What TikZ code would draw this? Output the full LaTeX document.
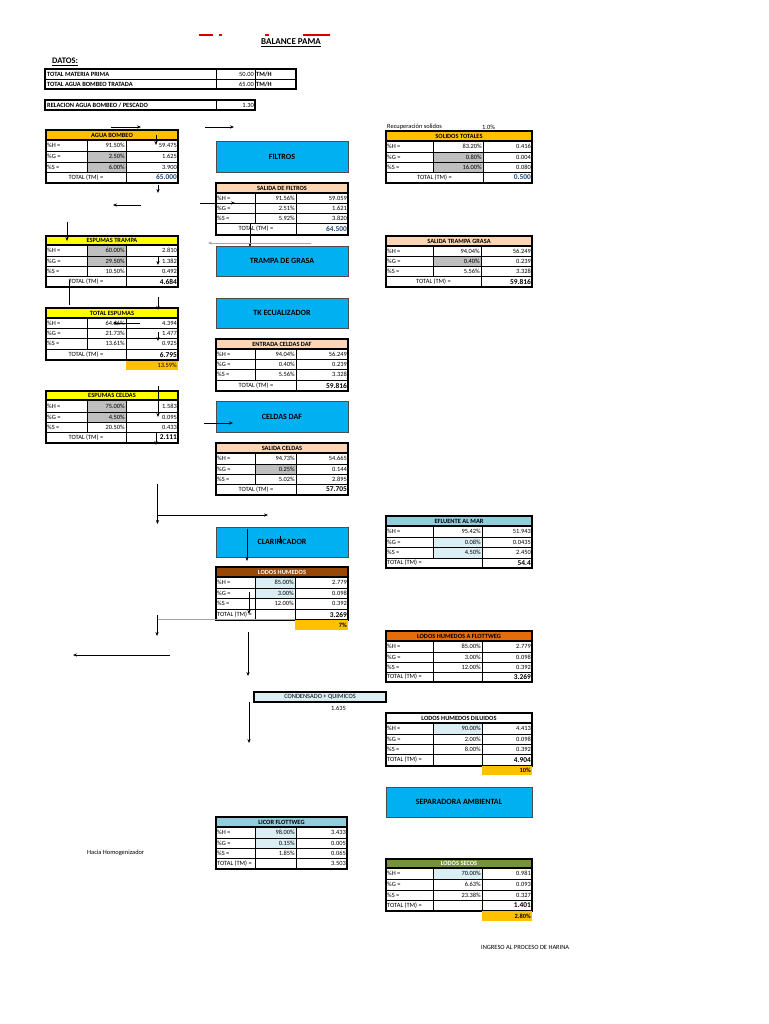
\documentclass[tikz,border=0pt]{standalone}
\usepackage{fontspec}
\setmainfont{Carlito}
\usetikzlibrary{arrows.meta}
\definecolor{gold}{RGB}{255,192,0}
\definecolor{peach}{RGB}{252,213,180}
\definecolor{yel}{RGB}{255,255,0}
\definecolor{boxblue}{RGB}{0,176,240}
\definecolor{cellgray}{RGB}{191,191,191}
\definecolor{lightcell}{RGB}{218,238,243}
\definecolor{hdrblue}{RGB}{146,205,220}
\definecolor{brownhdr}{RGB}{151,71,6}
\definecolor{orangehdr}{RGB}{228,108,10}
\definecolor{olivehdr}{RGB}{118,146,60}
\definecolor{navy}{RGB}{31,73,125}
\definecolor{titlered}{RGB}{210,0,0}
\tikzset{
 grid/.style={line width=0.6pt, draw=black},
 outer/.style={line width=1.1pt, draw=black},
 ctext/.style={inner sep=0pt, font=\fontsize{6.4}{7}\selectfont},
 htext/.style={inner sep=0pt, font=\fontsize{6.4}{7}\selectfont\bfseries},
 boxtext/.style={inner sep=0pt, font=\fontsize{8}{9}\selectfont\bfseries},
 tot/.style={font=\fontsize{7.4}{8}\selectfont\bfseries},
 totblue/.style={tot, text=navy},
 flow/.style={-{Stealth[length=4pt,width=3.2pt]}, line width=0.8pt},
 gflow/.style={flow, draw=gray!70},
 procbox/.style={draw=black!70, fill=boxblue, line width=0.8pt},
}
\newcounter{cellno}
\newcommand\cellnode[3]{\stepcounter{cellno}\edef\cname{n\arabic{cellno}}\node[#1] (\cname) at #2 {#3};}
\newcommand\setcols[4]{\def\xa{#1}\def\xb{#2}\def\xc{#3}\def\xd{#4}}
\newcommand\hdr[5]{%
  \filldraw[outer, fill=#3] (\xa,#1) rectangle (\xd,#2);
  \cellnode{htext,text=#4}{({(\xa+\xd)/2},{(#1+#2)/2})}{#5}}
\newcommand\drow[6]{%
  \fill[#5] (\xb,#1) rectangle (\xc,#2);
  \draw[grid] (\xa,#1) rectangle (\xd,#2) (\xb,#1)--(\xb,#2) (\xc,#1)--(\xc,#2);
  \cellnode{ctext,anchor=west}{({\xa+1},{(#1+#2)/2})}{#3}
  \cellnode{ctext,anchor=east}{({\xc-1},{(#1+#2)/2})}{#4}
  \cellnode{ctext,anchor=east}{({\xd-1},{(#1+#2)/2})}{#6}}
\newcommand\trowA[4]{%
  \draw[grid] (\xa,#1) rectangle (\xd,#2) (\xc,#1)--(\xc,#2);
  \cellnode{ctext}{({(\xa+\xc)/2},{(#1+#2)/2})}{TOTAL (TM) =}
  \cellnode{ctext,anchor=east,#4}{({\xd-1},{(#1+#2)/2})}{#3}}
\newcommand\trowB[5]{%
  \draw[grid] (\xa,#1) rectangle (\xd,#2) (\xc,#1)--(\xc,#2);
  \ifnum#5=1 \draw[grid] (\xb,#1)--(\xb,#2);\fi
  \cellnode{ctext,anchor=west}{({\xa+1},{(#1+#2)/2})}{TOTAL (TM) =}
  \cellnode{ctext,anchor=east,#4}{({\xd-1},{(#1+#2)/2})}{#3}}
\newcommand\tblframe[2]{\draw[outer] (\xa,#1) rectangle (\xd,#2);}
\newcommand\orangecell[4]{%
  \fill[gold] (\xc,#1) rectangle (\xd,#2);
  \cellnode{ctext,anchor=east,#4}{({\xd-1},{(#1+#2)/2})}{#3}}
\begin{document}
\begin{tikzpicture}[x=1pt,y=-1pt]
\useasboundingbox (0,0) rectangle (768,1024);
\fill[white] (0,0) rectangle (768,1024);
% title
\draw[titlered, line width=1.6pt] (199,35)--(213,35) (219,35)--(222,35) (265,35)--(269,35) (303,35)--(330,35);
\node[inner sep=0pt, font=\fontsize{9}{10}\selectfont\bfseries] (title) at (291,43) {\underline{BALANCE PAMA}};
\node[inner sep=0pt, anchor=west, font=\fontsize{8.5}{10}\selectfont\bfseries] (datos) at (52,62) {\underline{DATOS:}};
% datos
\draw[grid] (45,79)--(296,79) (216,69)--(216,89) (255,69)--(255,89);
\draw[outer] (45,69) rectangle (296,89);
\node[htext, anchor=west] (d1) at (47,74) {TOTAL MATERIA PRIMA};
\node[ctext, anchor=east] (d2) at (254,74) {50.00};
\node[htext, anchor=west] (d3) at (256,74) {TM/H};
\node[htext, anchor=west] (d4) at (47,84) {TOTAL AGUA BOMBEO TRATADA};
\node[ctext, anchor=east] (d5) at (254,84) {65.00};
\node[htext, anchor=west] (d6) at (256,84) {TM/H};
\draw[grid] (216,100)--(216,110);
\draw[outer] (45,100) rectangle (255,110);
\node[htext, anchor=west] (d7) at (47,105) {RELACION AGUA BOMBEO / PESCADO};
\node[ctext, anchor=east] (d8) at (254,105) {1.30};
% agua bombeo
\setcols{46}{87}{126}{178}
\hdr{130}{140}{gold}{black}{AGUA BOMBEO}
\drow{140}{151}{\%H =}{91.50\%}{white}{59.475}
\drow{151}{162}{\%G =}{2.50\%}{cellgray}{1.625}
\drow{162}{172}{\%S =}{6.00\%}{cellgray}{3.900}
\trowA{172}{183}{65.000}{totblue}
\tblframe{130}{183}
% solidos totales
\node[ctext, anchor=west] (rec) at (387,127) {Recuperación solidos};
\node[ctext, anchor=west] (recv) at (482,127) {1.0\%};
\setcols{386}{433}{483}{532}
\hdr{131}{141}{gold}{black}{SOLIDOS TOTALES}
\drow{141}{152}{\%H =}{83.20\%}{white}{0.416}
\drow{152}{162}{\%G =}{0.80\%}{cellgray}{0.004}
\drow{162}{172}{\%S =}{16.00\%}{cellgray}{0.080}
\trowA{172}{183}{0.500}{totblue}
\tblframe{131}{183}
% filtros
\filldraw[procbox] (216,141) rectangle (348,172);
\node[boxtext] (filtros) at (282,156.5) {FILTROS};
\setcols{216}{255}{296}{348}
\hdr{183}{193}{peach}{black}{SALIDA DE FILTROS}
\drow{193}{203}{\%H =}{91.56\%}{white}{59.059}
\drow{203}{213}{\%G =}{2.51\%}{white}{1.621}
\drow{213}{223}{\%S =}{5.92\%}{white}{3.820}
\trowA{223}{235}{64.500}{totblue}
\tblframe{183}{235}
% espumas trampa
\setcols{46}{87}{126}{178}
\hdr{236}{245}{yel}{black}{ESPUMAS TRAMPA}
\drow{245}{256}{\%H =}{60.00\%}{cellgray}{2.810}
\drow{256}{266}{\%G =}{29.50\%}{cellgray}{1.382}
\drow{266}{276}{\%S =}{10.50\%}{white}{0.492}
\trowA{276}{287}{4.684}{tot}
\tblframe{236}{287}
% trampa de grasa
\filldraw[procbox] (216,246) rectangle (348,276);
\node[boxtext] (trampa) at (282,261) {TRAMPA DE GRASA};
\setcols{386}{433}{481}{532}
\hdr{236}{246}{peach}{black}{SALIDA TRAMPA GRASA}
\drow{246}{256}{\%H =}{94.04\%}{white}{56.249}
\drow{256}{266}{\%G =}{0.40\%}{cellgray}{0.239}
\drow{266}{276}{\%S =}{5.56\%}{white}{3.328}
\trowA{276}{287}{59.816}{tot}
\tblframe{236}{287}
% total espumas
\setcols{46}{87}{126}{178}
\hdr{308}{318}{yel}{black}{TOTAL ESPUMAS}
\drow{318}{328}{\%H =}{64.66\%}{white}{4.394}
\drow{328}{338}{\%G =}{21.73\%}{white}{1.477}
\drow{338}{349}{\%S =}{13.61\%}{white}{0.925}
\trowA{349}{360}{6.795}{tot}
\tblframe{308}{360}
\orangecell{361}{370}{13.59\%}{}
% tk ecualizador
\filldraw[procbox] (216,298) rectangle (348,328);
\node[boxtext] (tk) at (282,313) {TK ECUALIZADOR};
\setcols{216}{255}{296}{348}
\hdr{339}{349}{peach}{black}{ENTRADA CELDAS DAF}
\drow{349}{359}{\%H =}{94.04\%}{white}{56.249}
\drow{359}{369}{\%G =}{0.40\%}{white}{0.239}
\drow{369}{380}{\%S =}{5.56\%}{white}{3.328}
\trowA{380}{391}{59.816}{tot}
\tblframe{339}{391}
% espumas celdas
\setcols{46}{87}{126}{178}
\hdr{391}{400}{yel}{black}{ESPUMAS CELDAS}
\drow{400}{412}{\%H =}{75.00\%}{cellgray}{1.583}
\drow{412}{422}{\%G =}{4.50\%}{cellgray}{0.095}
\drow{422}{432}{\%S =}{20.50\%}{white}{0.433}
\trowA{432}{443}{2.111}{tot}
\tblframe{391}{443}
% celdas daf
\filldraw[procbox] (216,401) rectangle (348,432);
\node[boxtext] (daf) at (282,416.5) {CELDAS DAF};
\setcols{216}{255}{296}{348}
\hdr{443}{453}{peach}{black}{SALIDA CELDAS}
\drow{453}{464}{\%H =}{94.73\%}{white}{54.665}
\drow{464}{474}{\%G =}{0.25\%}{cellgray}{0.144}
\drow{474}{484}{\%S =}{5.02\%}{white}{2.895}
\trowA{484}{495}{57.705}{tot}
\tblframe{443}{495}
% efluente al mar
\setcols{386}{433}{482}{532}
\hdr{516}{526}{hdrblue}{black}{EFLUENTE AL MAR}
\drow{526}{537}{\%H =}{95.42\%}{white}{51.943}
\drow{537}{547}{\%G =}{0.08\%}{lightcell}{0.0435}
\drow{547}{558}{\%S =}{4.50\%}{lightcell}{2.450}
\trowB{558}{568}{54.4}{tot}{0}
\tblframe{516}{568}
% clarificador
\filldraw[procbox] (216,527) rectangle (348,557);
\node[boxtext] (clar) at (282,542) {CLARIFICADOR};
\setcols{216}{255}{295}{348}
\hdr{567}{577}{brownhdr}{white}{LODOS HUMEDOS}
\drow{577}{588}{\%H =}{85.00\%}{lightcell}{2.779}
\drow{588}{598}{\%G =}{3.00\%}{lightcell}{0.098}
\drow{598}{609}{\%S =}{12.00\%}{white}{0.392}
\trowB{609}{620}{3.269}{tot}{1}
\tblframe{567}{620}
\orangecell{620}{630}{7\%}{htext}
% lodos humedos a flottweg
\setcols{386}{433}{482}{532}
\hdr{631}{641}{orangehdr}{black}{LODOS HUMEDOS A FLOTTWEG}
\drow{641}{652}{\%H =}{85.00\%}{white}{2.779}
\drow{652}{662}{\%G =}{3.00\%}{white}{0.098}
\drow{662}{672}{\%S =}{12.00\%}{white}{0.392}
\trowB{672}{682}{3.269}{tot}{1}
\tblframe{631}{682}
% condensado
\filldraw[outer, fill=lightcell] (254,692) rectangle (386,702);
\node[ctext] (cond) at (320,697) {CONDENSADO + QUIMICOS};
\node[ctext, anchor=east] (condv) at (346,708) {1.635};
% lodos humedos diluidos
\hdr{713}{723}{white}{black}{LODOS HUMEDOS DILUIDOS}
\drow{723}{734}{\%H =}{90.00\%}{lightcell}{4.413}
\drow{734}{744}{\%G =}{2.00\%}{white}{0.098}
\drow{744}{754}{\%S =}{8.00\%}{white}{0.392}
\trowB{754}{766}{4.904}{tot}{1}
\tblframe{713}{766}
\orangecell{766}{775}{10\%}{htext}
% separadora
\filldraw[procbox] (386,787) rectangle (532,817);
\node[boxtext] (sep) at (459,802) {SEPARADORA AMBIENTAL};
% licor flottweg
\setcols{216}{255}{296}{347}
\hdr{817}{827}{hdrblue}{black}{LICOR FLOTTWEG}
\drow{827}{838}{\%H =}{98.00\%}{lightcell}{3.433}
\drow{838}{848}{\%G =}{0.15\%}{lightcell}{0.005}
\drow{848}{858}{\%S =}{1.85\%}{white}{0.065}
\trowB{858}{869}{3.503}{}{1}
\tblframe{817}{869}
\node[ctext, anchor=west] (hacia) at (87,853) {Hacia Homogenizador};
% lodos secos
\setcols{386}{433}{482}{532}
\hdr{859}{868}{olivehdr}{white}{LODOS SECOS}
\drow{868}{879}{\%H =}{70.00\%}{lightcell}{0.981}
\drow{879}{890}{\%G =}{6.63\%}{white}{0.093}
\drow{890}{900}{\%S =}{23.38\%}{white}{0.327}
\trowB{900}{911}{1.401}{tot}{1}
\tblframe{859}{911}
\orangecell{911}{921}{2.80\%}{htext}
\node[ctext, anchor=west] (ingreso) at (481,947) {INGRESO AL PROCESO DE HARINA};
% arrows
\draw[flow] (111,127) -- (141,127);
\draw[flow] (205,127) -- (234,127);
\draw[flow] (156,135) -- (156,145);
\draw[flow] (158,185) -- (158,193);
\draw[flow] (141,205) -- (113,205);
\draw[flow] (200,203) -- (235,203);
\draw[flow] (250,224) -- (250,247);
\draw[gflow] (311,243) -- (208,243);
\draw[flow] (67,222) -- (67,241);
\draw[flow] (158,256) -- (158,265);
\draw[line width=0.8pt] (69,280) -- (69,305);
\draw[flow] (158,297) -- (158,310);
\draw[flow] (140,323) -- (113,323);
\draw[flow] (158,332) -- (158,341);
\draw[flow] (158,386) -- (158,417);
\draw[flow] (156,433) -- (156,445);
\draw[flow] (204,423) -- (233,423);
\draw[flow] (157.5,484) -- (157.5,524);
\draw[flow] (157.5,515) -- (268,515);
\draw[flow] (247,529) -- (247,561);
\draw[flow] (280,536) -- (280,544);
\draw[flow] (249,592) -- (249,614);
\draw[line width=0.8pt, gray!70] (295,619) -- (157,619);
\draw[flow] (157,615) -- (157,636);
\draw[flow] (248,632) -- (248,676);
\draw[flow] (170,655) -- (73,655);
\draw[flow] (249,702) -- (249,743);
\end{tikzpicture}
\end{document}
